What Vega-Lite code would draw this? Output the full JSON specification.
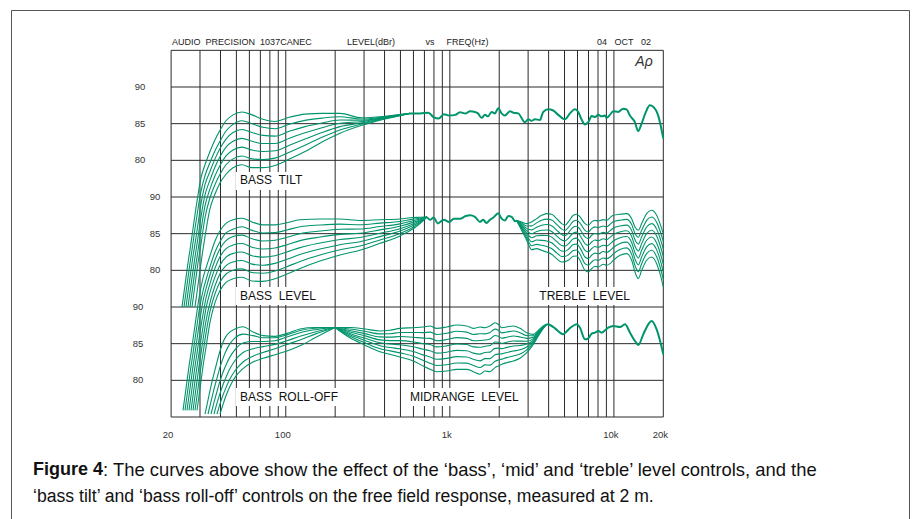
{
"$schema":"https://vega.github.io/schema/vega-lite/v6.json",
"width":898,"height":517,
"autosize":{"type":"none"},
"padding":{"left":11,"top":10,"right":7,"bottom":0},
"background":"white",
"config":{"view":{"stroke":"#555","strokeWidth":1},"text":{"font":"Liberation Sans"}},
"datasets":{
"vgrid":[{"hz":20},{"hz":30},{"hz":40},{"hz":50},{"hz":60},{"hz":70},{"hz":80},{"hz":90},{"hz":100},{"hz":200},{"hz":300},{"hz":400},{"hz":500},{"hz":600},{"hz":700},{"hz":800},{"hz":900},{"hz":1000},{"hz":2000},{"hz":3000},{"hz":4000},{"hz":5000},{"hz":6000},{"hz":7000},{"hz":8000},{"hz":9000},{"hz":10000},{"hz":20000}],
"hgrid":[{"l":95},{"l":90},{"l":85},{"l":80},{"l":75},{"l":70},{"l":65},{"l":60},{"l":55},{"l":50},{"l":45}],
"ticks":[{"v":90},{"v":85},{"v":80}],
"xlab":[{"hz":20,"t":"20"},{"hz":100,"t":"100"},{"hz":1000,"t":"1k"},{"hz":10000,"t":"10k"},{"hz":20000,"t":"20k"}],
"tilt":[
{"hz":23.31,"a":60},
{"hz":23.97,"a":62,"b":60},
{"hz":24.65,"a":64,"b":62,"c":60},
{"hz":25.35,"a":66,"b":64,"c":62,"d":60},
{"hz":26.08,"a":67.8,"b":66,"c":64,"d":62,"e":60},
{"hz":26.82,"a":69.7,"b":67.8,"c":66,"d":64,"e":62,"f":60},
{"hz":27.97,"a":72.6,"b":70.7,"c":68.6,"d":66.8,"e":65.0,"f":63.0,"g":60},
{"hz":29.18,"a":75.3,"b":73.4,"c":71.3,"d":69.5,"e":67.7,"f":66.0,"g":63.0},
{"hz":30.43,"a":77.6,"b":75.8,"c":74.1,"d":72.3,"e":70.5,"f":68.6,"g":66.0},
{"hz":32.19,"a":79.4,"b":77.9,"c":76.7,"d":75.3,"e":73.8,"f":72.2,"g":69.6},
{"hz":34.52,"a":81.2,"b":79.7,"c":78.5,"d":77.3,"e":76.1,"f":74.9,"g":73.4},
{"hz":37.04,"a":82.8,"b":81.3,"c":80.2,"d":79.1,"e":77.9,"f":76.7,"g":75.4},
{"hz":39.73,"a":84.1,"b":82.6,"c":81.6,"d":80.5,"e":79.3,"f":78.1,"g":76.9},
{"hz":43.22,"a":85.4,"b":84.0,"c":82.9,"d":81.8,"e":80.6,"f":79.4,"g":78.1},
{"hz":47.69,"a":86.2,"b":84.9,"c":83.8,"d":82.6,"e":81.4,"f":80.2,"g":79.0},
{"hz":54.1,"a":86.6,"b":85.4,"c":84.2,"d":83.0,"e":81.8,"f":80.6,"g":79.4},
{"hz":62.23,"a":86.2,"b":85.0,"c":83.8,"d":82.6,"e":81.4,"f":80.2,"g":79.0},
{"hz":72.63,"a":85.6,"b":84.5,"c":83.4,"d":82.3,"e":81.2,"f":80.1,"g":79.0},
{"hz":85.98,"a":85.3,"b":84.3,"c":83.3,"d":82.3,"e":81.3,"f":80.3,"g":79.3},
{"hz":106.1,"a":85.9,"b":84.95,"c":84.0,"d":83.05,"e":82.1,"f":81.15,"g":80.2},
{"hz":131,"a":86.3,"b":85.45,"c":84.6,"d":83.75,"e":82.9,"f":82.05,"g":81.2},
{"hz":166.3,"a":86.4,"b":85.75,"c":85.1,"d":84.45,"e":83.8,"f":83.15,"g":82.5},
{"hz":214,"a":86.4,"b":85.95,"c":85.5,"d":85.05,"e":84.6,"f":84.15,"g":83.7},
{"hz":291.5,"a":85.8,"b":85.63,"c":85.46,"d":85.29,"e":85.12,"f":84.95,"g":84.78},
{"hz":402.5,"a":86.0,"b":85.94,"c":85.88,"d":85.82,"e":85.76,"f":85.7,"g":85.64},
{"hz":571.7,"a":86.4,"b":86.4,"c":86.4,"d":86.4,"e":86.4,"f":86.4,"g":86.4}
],
"base1":[
{"hz":571.7,"v":86.4},{"hz":600,"v":86.4},{"hz":658,"v":86.4},{"hz":740,"v":86.5},{"hz":795,"v":85.9},{"hz":855,"v":85.7},{"hz":920,"v":86.3},{"hz":990,"v":86.1},{"hz":1080,"v":86.2},{"hz":1153,"v":86.55},{"hz":1250,"v":86.4},{"hz":1327,"v":86.7},{"hz":1422,"v":86.6},{"hz":1483,"v":86.4},{"hz":1562,"v":85.8},{"hz":1637,"v":86.2},{"hz":1707,"v":86.0},{"hz":1797,"v":86.6},{"hz":1883,"v":86.4},{"hz":1972,"v":87.1},{"hz":2068,"v":86.4},{"hz":2166,"v":86.1},{"hz":2324,"v":86.7},{"hz":2434,"v":86.5},{"hz":2611,"v":86.4},{"hz":2868,"v":85.2},{"hz":3004,"v":85.6},{"hz":3151,"v":85.4},{"hz":3300,"v":85.6},{"hz":3540,"v":85.5},{"hz":3708,"v":86.6},{"hz":3977,"v":86.95},{"hz":4266,"v":86.8},{"hz":4576,"v":86.2},{"hz":5028,"v":85.6},{"hz":5395,"v":86.4},{"hz":5786,"v":86.95},{"hz":6061,"v":86.6},{"hz":6359,"v":85.55},{"hz":6661,"v":84.9},{"hz":6977,"v":85.2},{"hz":7318,"v":86.05},{"hz":7664,"v":85.9},{"hz":8027,"v":86.2},{"hz":8418,"v":86.0},{"hz":8817,"v":86.1},{"hz":9030,"v":85.8},{"hz":9455,"v":86.2},{"hz":9904,"v":86.7},{"hz":10620,"v":86.6},{"hz":11391,"v":87.05},{"hz":11946,"v":86.95},{"hz":12512,"v":86.1},{"hz":13423,"v":85.2},{"hz":14059,"v":84.0},{"hz":14745,"v":85.0},{"hz":15665,"v":86.6},{"hz":16567,"v":87.5},{"hz":17352,"v":87.3},{"hz":18620,"v":86.1},{"hz":20000,"v":83.0}
],
"bass":[
{"hz":23.64,"a":60.9},
{"hz":24.31,"a":62.9,"b":60.9},
{"hz":25.0,"a":64.9,"b":62.9,"c":60.9},
{"hz":25.71,"a":66.9,"b":64.9,"c":62.9,"d":60.9},
{"hz":26.45,"a":68.7,"b":66.9,"c":64.9,"d":62.9,"e":60.9},
{"hz":27.2,"a":70.6,"b":68.7,"c":66.9,"d":64.9,"e":62.9,"f":60.9},
{"hz":27.97,"a":72.5,"b":70.6,"c":68.7,"d":66.9,"e":64.9,"f":62.9,"g":60.9},
{"hz":28.77,"a":74.4,"b":72.5,"c":70.6,"d":68.7,"e":66.9,"f":64.9,"g":62.9,"h":60.9},
{"hz":29.59,"a":76.2,"b":74.4,"c":72.5,"d":70.6,"e":68.7,"f":66.9,"g":64.9,"h":62.9},
{"hz":30.43,"a":77.7,"b":75.9,"c":74.2,"d":72.4,"e":70.5,"f":68.7,"g":66.9,"h":64.9},
{"hz":31.3,"a":78.95,"b":77.2,"c":75.8,"d":74.0,"e":72.3,"f":70.5,"g":68.7,"h":66.9},
{"hz":32.64,"a":80.3,"b":78.7,"c":77.5,"d":76.2,"e":74.8,"f":73.1,"g":71.4,"h":69.5},
{"hz":34.52,"a":82.0,"b":80.5,"c":79.4,"d":78.2,"e":77.0,"f":75.6,"g":74.4,"h":72.9},
{"hz":37.04,"a":84.0,"b":82.5,"c":81.4,"d":80.3,"e":79.1,"f":77.9,"g":76.8,"h":75.6},
{"hz":39.73,"a":85.4,"b":83.9,"c":82.95,"d":81.85,"e":80.7,"f":79.55,"g":78.4,"h":77.25},
{"hz":43.22,"a":86.4,"b":85.1,"c":84.05,"d":82.95,"e":81.8,"f":80.65,"g":79.5,"h":78.35},
{"hz":47.69,"a":86.9,"b":85.6,"c":84.6,"d":83.45,"e":82.3,"f":81.15,"g":80.0,"h":78.85},
{"hz":54.1,"a":87.1,"b":85.95,"c":84.8,"d":83.65,"e":82.5,"f":81.35,"g":80.2,"h":79.05},
{"hz":62.23,"a":86.6,"b":85.45,"c":84.3,"d":83.15,"e":82.0,"f":80.85,"g":79.7,"h":78.55},
{"hz":72.63,"a":86.2,"b":85.1,"c":84.0,"d":82.9,"e":81.8,"f":80.7,"g":79.6,"h":78.5},
{"hz":85.98,"a":86.2,"b":85.15,"c":84.1,"d":83.05,"e":82.0,"f":80.95,"g":79.9,"h":78.85},
{"hz":101.7,"a":86.5,"b":85.5,"c":84.5,"d":83.5,"e":82.5,"f":81.5,"g":80.5,"h":79.5},
{"hz":122.1,"a":86.9,"b":85.95,"c":85.0,"d":84.05,"e":83.1,"f":82.15,"g":81.2,"h":80.25},
{"hz":161.65,"a":87.0,"b":86.18,"c":85.36,"d":84.54,"e":83.72,"f":82.9,"g":82.08,"h":81.26},
{"hz":214,"a":87.0,"b":86.3,"c":85.6,"d":84.9,"e":84.2,"f":83.5,"g":82.8,"h":82.1},
{"hz":283.4,"a":86.8,"b":86.22,"c":85.64,"d":85.06,"e":84.48,"f":83.9,"g":83.32,"h":82.74},
{"hz":375.2,"a":86.9,"b":86.44,"c":85.98,"d":85.52,"e":85.06,"f":84.6,"g":84.14,"h":83.68},
{"hz":496.9,"a":87.0,"b":86.67,"c":86.34,"d":86.01,"e":85.68,"f":85.35,"g":85.02,"h":84.69},
{"hz":596.3,"a":87.2,"b":86.98,"c":86.76,"d":86.54,"e":86.32,"f":86.1,"g":85.88,"h":85.66},
{"hz":657.7,"a":87.23,"b":87.11,"c":86.99,"d":86.87,"e":86.75,"f":86.63,"g":86.51,"h":86.39},
{"hz":725.6,"a":87.27,"b":87.27,"c":87.27,"d":87.27,"e":87.27,"f":87.27,"g":87.27,"h":87.27}
],
"base2":[
{"hz":725.6,"v":87.27},{"hz":757,"v":86.9},{"hz":798,"v":87.2},{"hz":843,"v":86.4},{"hz":920,"v":86.9},{"hz":990,"v":86.6},{"hz":1060,"v":87.05},{"hz":1153,"v":87.05},{"hz":1250,"v":87.4},{"hz":1327,"v":87.5},{"hz":1422,"v":87.3},{"hz":1527,"v":86.6},{"hz":1600,"v":86.9},{"hz":1670,"v":86.45},{"hz":1757,"v":86.9},{"hz":1842,"v":87.2},{"hz":1972,"v":87.8},{"hz":2068,"v":87.05},{"hz":2166,"v":86.8},{"hz":2270,"v":87.4},{"hz":2380,"v":87.3},{"hz":2500,"v":86.7},{"hz":2554,"v":86.8}
],
"treble":[
{"hz":2554,"a":86.8,"b":86.8,"c":86.8,"d":86.8,"e":86.8,"f":86.8,"g":86.8,"h":86.8},
{"hz":2740,"a":86.6,"b":86.44,"c":86.27,"d":86.11,"e":85.95,"f":85.79,"g":85.62,"h":85.46},
{"hz":2940,"a":86.37,"b":86.05,"c":85.72,"d":85.4,"e":85.07,"f":84.75,"g":84.43,"h":84.1},
{"hz":3152,"a":86.6,"b":86.06,"c":85.52,"d":84.98,"e":84.44,"f":83.9,"g":83.36,"h":82.82},
{"hz":3382,"a":87.05,"b":86.47,"c":85.88,"d":85.3,"e":84.71,"f":84.13,"g":83.54,"h":82.96},
{"hz":3628,"a":87.5,"b":86.82,"c":86.14,"d":85.46,"e":84.77,"f":84.09,"g":83.41,"h":82.73},
{"hz":3892,"a":87.73,"b":86.98,"c":86.24,"d":85.49,"e":84.74,"f":83.99,"g":83.25,"h":82.5},
{"hz":4174,"a":87.64,"b":86.86,"c":86.08,"d":85.3,"e":84.53,"f":83.75,"g":82.97,"h":82.19},
{"hz":4477,"a":87.05,"b":86.27,"c":85.49,"d":84.71,"e":83.94,"f":83.16,"g":82.38,"h":81.6},
{"hz":4804,"a":86.37,"b":85.62,"c":84.88,"d":84.13,"e":83.38,"f":82.63,"g":81.89,"h":81.14},
{"hz":5034,"a":86.14,"b":85.43,"c":84.73,"d":84.02,"e":83.31,"f":82.6,"g":81.9,"h":81.19},
{"hz":5276,"a":86.6,"b":85.85,"c":85.11,"d":84.36,"e":83.61,"f":82.86,"g":82.12,"h":81.37},
{"hz":5658,"a":87.5,"b":86.7,"c":85.9,"d":85.1,"e":84.31,"f":83.51,"g":82.71,"h":81.91},
{"hz":5929,"a":87.64,"b":86.83,"c":86.02,"d":85.21,"e":84.39,"f":83.58,"g":82.77,"h":81.96},
{"hz":6213,"a":87.28,"b":86.44,"c":85.59,"d":84.75,"e":83.9,"f":83.06,"g":82.21,"h":81.37},
{"hz":6664,"a":86.37,"b":85.46,"c":84.55,"d":83.64,"e":82.73,"f":81.82,"g":80.91,"h":80.0},
{"hz":6982,"a":86.14,"b":85.23,"c":84.32,"d":83.41,"e":82.51,"f":81.6,"g":80.69,"h":79.78},
{"hz":7318,"a":86.6,"b":85.69,"c":84.78,"d":83.87,"e":82.96,"f":82.05,"g":81.14,"h":80.23},
{"hz":7668,"a":86.82,"b":85.92,"c":85.03,"d":84.13,"e":83.24,"f":82.34,"g":81.45,"h":80.55},
{"hz":8036,"a":86.73,"b":85.83,"c":84.94,"d":84.04,"e":83.15,"f":82.25,"g":81.36,"h":80.46},
{"hz":8618,"a":86.91,"b":86.04,"c":85.17,"d":84.3,"e":83.43,"f":82.56,"g":81.69,"h":80.82},
{"hz":9032,"a":86.82,"b":85.94,"c":85.07,"d":84.19,"e":83.32,"f":82.44,"g":81.57,"h":80.69},
{"hz":9470,"a":87.19,"b":86.29,"c":85.4,"d":84.5,"e":83.6,"f":82.71,"g":81.81,"h":80.91},
{"hz":9920,"a":87.5,"b":86.62,"c":85.75,"d":84.87,"e":84.0,"f":83.12,"g":82.25,"h":81.37},
{"hz":10892,"a":87.64,"b":86.84,"c":86.04,"d":85.24,"e":84.45,"f":83.65,"g":82.85,"h":82.05},
{"hz":11960,"a":87.73,"b":86.95,"c":86.17,"d":85.39,"e":84.62,"f":83.84,"g":83.06,"h":82.28},
{"hz":12830,"a":87.05,"b":86.24,"c":85.43,"d":84.61,"e":83.8,"f":82.99,"g":82.18,"h":81.37},
{"hz":13444,"a":85.91,"b":85.03,"c":84.16,"d":83.28,"e":82.41,"f":81.53,"g":80.66,"h":79.78},
{"hz":14088,"a":85.46,"b":84.52,"c":83.58,"d":82.64,"e":81.69,"f":80.75,"g":79.81,"h":78.87},
{"hz":14760,"a":86.37,"b":85.46,"c":84.55,"d":83.64,"e":82.73,"f":81.82,"g":80.91,"h":80.0},
{"hz":15832,"a":87.73,"b":86.82,"c":85.91,"d":85.0,"e":84.1,"f":83.19,"g":82.28,"h":81.37},
{"hz":16986,"a":88.19,"b":87.28,"c":86.37,"d":85.46,"e":84.55,"f":83.64,"g":82.73,"h":81.82},
{"hz":18220,"a":87.5,"b":86.56,"c":85.62,"d":84.68,"e":83.73,"f":82.79,"g":81.85,"h":80.91},
{"hz":19099,"a":86.37,"b":85.4,"c":84.42,"d":83.45,"e":82.47,"f":81.5,"g":80.52,"h":79.55},
{"hz":20000,"a":85.0,"b":83.96,"c":82.92,"d":81.88,"e":80.85,"f":79.81,"g":78.77,"h":77.73}
],
"rolloff":[
{"hz":32.19,"a":75.4},
{"hz":33.57,"a":77.3,"b":75.4},
{"hz":35.01,"a":79.2,"b":77.1,"c":75.4},
{"hz":36.52,"a":80.9,"b":78.8,"c":77.0,"d":75.4},
{"hz":38.09,"a":82.5,"b":80.3,"c":78.5,"d":76.9,"e":75.4},
{"hz":39.73,"a":84.0,"b":81.8,"c":79.9,"d":78.2,"e":76.8,"f":75.4},
{"hz":41.44,"a":85.2,"b":83.0,"c":81.1,"d":79.4,"e":78.0,"f":76.7},
{"hz":43.22,"a":86.0,"b":84.0,"c":82.1,"d":80.4,"e":79.0,"f":77.9},
{"hz":45.72,"a":86.6,"b":85.0,"c":83.2,"d":81.6,"e":80.2,"f":79.2},
{"hz":49.05,"a":87.0,"b":85.8,"c":84.2,"d":82.7,"e":81.3,"f":80.4},
{"hz":54.86,"a":87.3,"b":86.3,"c":85.1,"d":83.8,"e":82.5,"f":81.6},
{"hz":63.11,"a":86.6,"b":86.1,"c":85.3,"d":84.3,"e":83.3,"f":82.5},
{"hz":72.63,"a":86.1,"b":85.8,"c":85.3,"d":84.6,"e":83.8,"f":83.0},
{"hz":85.98,"a":86.0,"b":85.8,"c":85.4,"d":84.9,"e":84.3,"f":83.5},
{"hz":101.7,"a":86.4,"b":86.2,"c":85.9,"d":85.4,"e":84.9,"f":84.0},
{"hz":122.1,"a":87.0,"b":86.8,"c":86.5,"d":86.0,"e":85.5,"f":84.7},
{"hz":150.75,"a":87.2,"b":87.1,"c":86.9,"d":86.6,"e":86.3,"f":85.8},
{"hz":199.5,"a":87.2,"b":87.2,"c":87.2,"d":87.2,"e":87.2,"f":87.2}
],
"mid":[
{"hz":199.5,"a":87.2,"b":87.2,"c":87.2,"d":87.2,"e":87.2,"f":87.2,"g":87.2,"h":87.2},
{"hz":246,"a":87.2,"b":87.0,"c":86.8,"d":86.6,"e":86.4,"f":86.2,"g":86.0,"h":85.8},
{"hz":304,"a":87.0,"b":86.69,"c":86.37,"d":86.06,"e":85.74,"f":85.43,"g":85.11,"h":84.8},
{"hz":375.2,"a":86.73,"b":86.33,"c":85.92,"d":85.52,"e":85.12,"f":84.72,"g":84.31,"h":83.91},
{"hz":431.8,"a":86.82,"b":86.35,"c":85.89,"d":85.42,"e":84.95,"f":84.48,"g":84.02,"h":83.55},
{"hz":496.8,"a":87.09,"b":86.53,"c":85.97,"d":85.41,"e":84.86,"f":84.3,"g":83.74,"h":83.18},
{"hz":599,"a":87.18,"b":86.53,"c":85.88,"d":85.23,"e":84.59,"f":83.94,"g":83.29,"h":82.64},
{"hz":689,"a":87.27,"b":86.51,"c":85.75,"d":84.99,"e":84.23,"f":83.47,"g":82.71,"h":81.95},
{"hz":757,"a":87.41,"b":86.57,"c":85.72,"d":84.88,"e":84.03,"f":83.19,"g":82.34,"h":81.5},
{"hz":831,"a":87.09,"b":86.25,"c":85.4,"d":84.56,"e":83.71,"f":82.87,"g":82.02,"h":81.18},
{"hz":957,"a":87.27,"b":86.41,"c":85.56,"d":84.7,"e":83.84,"f":82.99,"g":82.13,"h":81.27},
{"hz":1101,"a":87.55,"b":86.69,"c":85.82,"d":84.96,"e":84.09,"f":83.23,"g":82.36,"h":81.5},
{"hz":1267,"a":87.41,"b":86.57,"c":85.72,"d":84.88,"e":84.03,"f":83.19,"g":82.34,"h":81.5},
{"hz":1391,"a":87.09,"b":86.25,"c":85.4,"d":84.56,"e":83.71,"f":82.87,"g":82.02,"h":81.18},
{"hz":1527,"a":87.27,"b":86.35,"c":85.43,"d":84.51,"e":83.58,"f":82.66,"g":81.74,"h":80.82},
{"hz":1638,"a":87.18,"b":86.34,"c":85.49,"d":84.65,"e":83.8,"f":82.96,"g":82.11,"h":81.27},
{"hz":1757,"a":87.41,"b":86.52,"c":85.63,"d":84.74,"e":83.85,"f":82.96,"g":82.07,"h":81.18},
{"hz":1885,"a":87.86,"b":86.98,"c":86.11,"d":85.23,"e":84.36,"f":83.48,"g":82.61,"h":81.73},
{"hz":1975,"a":87.64,"b":86.83,"c":86.01,"d":85.2,"e":84.39,"f":83.58,"g":82.76,"h":81.95},
{"hz":2070,"a":87.18,"b":86.47,"c":85.75,"d":85.04,"e":84.32,"f":83.61,"g":82.89,"h":82.18},
{"hz":2220,"a":87.27,"b":86.58,"c":85.88,"d":85.19,"e":84.49,"f":83.8,"g":83.1,"h":82.41},
{"hz":2437,"a":87.41,"b":86.73,"c":86.05,"d":85.36,"e":84.68,"f":84.0,"g":83.32,"h":82.64},
{"hz":2676,"a":87.09,"b":86.5,"c":85.92,"d":85.34,"e":84.75,"f":84.17,"g":83.58,"h":83.0},
{"hz":2940,"a":86.5,"b":86.11,"c":85.72,"d":85.33,"e":84.94,"f":84.55,"g":84.16,"h":83.77},
{"hz":3228,"a":86.27,"b":86.08,"c":85.88,"d":85.69,"e":85.49,"f":85.3,"g":85.1,"h":84.91},
{"hz":3462,"a":86.82,"b":86.71,"c":86.6,"d":86.49,"e":86.38,"f":86.27,"g":86.16,"h":86.05},
{"hz":3714,"a":87.41,"b":87.36,"c":87.32,"d":87.27,"e":87.23,"f":87.18,"g":87.14,"h":87.09},
{"hz":3892,"a":87.64,"b":87.64,"c":87.64,"d":87.64,"e":87.64,"f":87.64,"g":87.64,"h":87.64}
],
"base3":[
{"hz":3892,"v":87.64},{"hz":4078,"v":87.55},{"hz":4376,"v":87.09},{"hz":4692,"v":86.5},{"hz":4905,"v":86.27},{"hz":5130,"v":86.64},{"hz":5500,"v":87.27},{"hz":5929,"v":87.64},{"hz":6213,"v":87.18},{"hz":6664,"v":85.59},{"hz":6982,"v":85.73},{"hz":7318,"v":86.36},{"hz":7668,"v":86.5},{"hz":8036,"v":86.73},{"hz":8420,"v":86.5},{"hz":8820,"v":86.82},{"hz":9240,"v":87.18},{"hz":9920,"v":87.41},{"hz":10892,"v":87.27},{"hz":11680,"v":87.64},{"hz":12535,"v":86.5},{"hz":13444,"v":85.36},{"hz":14088,"v":84.82},{"hz":15100,"v":86.27},{"hz":16200,"v":87.64},{"hz":16986,"v":88.09},{"hz":18220,"v":86.95},{"hz":20000,"v":83.55}
]
},
"layer":[
{"layer":[
{"data":{"name":"vgrid"},"mark":{"type":"rule","color":"#2a2a2a","strokeWidth":1},
 "encoding":{"x":{"field":"hz","type":"quantitative","scale":{"type":"log","domain":[2.1146,628940],"nice":false},"axis":null},
  "y":{"datum":95,"type":"quantitative","scale":{"domain":[30,100.5],"nice":false,"zero":false},"axis":null},"y2":{"datum":45}}},
{"data":{"name":"hgrid"},"mark":{"type":"rule","color":"#2a2a2a","strokeWidth":1},
 "encoding":{"x":{"datum":20,"type":"quantitative","scale":{"type":"log","domain":[2.1146,628940],"nice":false},"axis":null},"x2":{"datum":20000},
  "y":{"field":"l","type":"quantitative","scale":{"domain":[30,100.5],"nice":false,"zero":false},"axis":null}}},
{"data":{"values":[{}]},"mark":{"type":"rect","color":"white"},
 "encoding":{"x":{"datum":49.73,"type":"quantitative","scale":{"type":"log","domain":[2.1146,628940],"nice":false},"axis":null},"x2":{"datum":132.8},
  "y":{"datum":78.41,"type":"quantitative","scale":{"domain":[30,100.5],"nice":false,"zero":false},"axis":null},"y2":{"datum":75.95}}},
{"data":{"values":[{}]},"mark":{"type":"rect","color":"white"},
 "encoding":{"x":{"datum":49.73,"type":"quantitative","scale":{"type":"log","domain":[2.1146,628940],"nice":false},"axis":null},"x2":{"datum":161.65},
  "y":{"datum":62.73,"type":"quantitative","scale":{"domain":[30,100.5],"nice":false,"zero":false},"axis":null},"y2":{"datum":60.27}}},
{"data":{"values":[{}]},"mark":{"type":"rect","color":"white"},
 "encoding":{"x":{"datum":3258,"type":"quantitative","scale":{"type":"log","domain":[2.1146,628940],"nice":false},"axis":null},"x2":{"datum":13443},
  "y":{"datum":62.73,"type":"quantitative","scale":{"domain":[30,100.5],"nice":false,"zero":false},"axis":null},"y2":{"datum":60.27}}},
{"data":{"values":[{}]},"mark":{"type":"rect","color":"white"},
 "encoding":{"x":{"datum":49.73,"type":"quantitative","scale":{"type":"log","domain":[2.1146,628940],"nice":false},"axis":null},"x2":{"datum":226.4},
  "y":{"datum":48.95,"type":"quantitative","scale":{"domain":[30,100.5],"nice":false,"zero":false},"axis":null},"y2":{"datum":46.5}}},
{"data":{"values":[{}]},"mark":{"type":"rect","color":"white"},
 "encoding":{"x":{"datum":540.4,"type":"quantitative","scale":{"type":"log","domain":[2.1146,628940],"nice":false},"axis":null},"x2":{"datum":2832},
  "y":{"datum":48.95,"type":"quantitative","scale":{"domain":[30,100.5],"nice":false,"zero":false},"axis":null},"y2":{"datum":46.5}}},
{"data":{"name":"tilt"},"transform":[{"fold":["a","b","c","d","e","f","g"],"as":["k","v"]},{"filter":"isValid(datum.v)"}],
 "mark":{"type":"line","color":"#00946c","strokeWidth":1.1,"interpolate":"monotone"},
 "encoding":{"x":{"field":"hz","type":"quantitative","scale":{"type":"log","domain":[2.1146,628940],"nice":false},"axis":null},
  "y":{"field":"v","type":"quantitative","scale":{"domain":[30,100.5],"nice":false,"zero":false},"axis":null},"detail":{"field":"k"}}},
{"data":{"name":"base1"},"mark":{"type":"line","color":"#00946c","strokeWidth":2,"interpolate":"monotone"},
 "encoding":{"x":{"field":"hz","type":"quantitative","scale":{"type":"log","domain":[2.1146,628940],"nice":false},"axis":null},
  "y":{"field":"v","type":"quantitative","scale":{"domain":[30,100.5],"nice":false,"zero":false},"axis":null}}},
{"data":{"name":"ticks"},"mark":{"type":"text","dx":-31,"fontSize":9.5,"align":"center","baseline":"middle","color":"#333"},
 "encoding":{"x":{"datum":20,"type":"quantitative","scale":{"type":"log","domain":[2.1146,628940],"nice":false},"axis":null},
  "y":{"field":"v","type":"quantitative","scale":{"domain":[30,100.5],"nice":false,"zero":false},"axis":null},"text":{"field":"v","type":"quantitative"}}},
{"data":{"name":"xlab"},"mark":{"type":"text","dx":-3,"dy":18,"fontSize":9.5,"align":"center","baseline":"middle","color":"#333"},
 "encoding":{"x":{"field":"hz","type":"quantitative","scale":{"type":"log","domain":[2.1146,628940],"nice":false},"axis":null},
  "y":{"datum":45,"type":"quantitative","scale":{"domain":[30,100.5],"nice":false,"zero":false},"axis":null},"text":{"field":"t"}}},
{"data":{"values":[{}]},"mark":{"type":"text","text":"AUDIO\u00a0 PRECISION\u00a0 1037CANEC","dx":1,"dy":-8,"fontSize":9,"align":"left","baseline":"middle","color":"#222"},
 "encoding":{"x":{"datum":20,"type":"quantitative","scale":{"type":"log","domain":[2.1146,628940],"nice":false},"axis":null},
  "y":{"datum":95,"type":"quantitative","scale":{"domain":[30,100.5],"nice":false,"zero":false},"axis":null}}},
{"data":{"values":[{}]},"mark":{"type":"text","text":"LEVEL(dBr)","dy":-8,"fontSize":9,"align":"left","baseline":"middle","color":"#222"},
 "encoding":{"x":{"datum":236,"type":"quantitative","scale":{"type":"log","domain":[2.1146,628940],"nice":false},"axis":null},
  "y":{"datum":95,"type":"quantitative","scale":{"domain":[30,100.5],"nice":false,"zero":false},"axis":null}}},
{"data":{"values":[{}]},"mark":{"type":"text","text":"vs","dy":-8,"fontSize":9,"align":"left","baseline":"middle","color":"#222"},
 "encoding":{"x":{"datum":710,"type":"quantitative","scale":{"type":"log","domain":[2.1146,628940],"nice":false},"axis":null},
  "y":{"datum":95,"type":"quantitative","scale":{"domain":[30,100.5],"nice":false,"zero":false},"axis":null}}},
{"data":{"values":[{}]},"mark":{"type":"text","text":"FREQ(Hz)","dy":-8,"fontSize":9,"align":"left","baseline":"middle","color":"#222"},
 "encoding":{"x":{"datum":955,"type":"quantitative","scale":{"type":"log","domain":[2.1146,628940],"nice":false},"axis":null},
  "y":{"datum":95,"type":"quantitative","scale":{"domain":[30,100.5],"nice":false,"zero":false},"axis":null}}},
{"data":{"values":[{}]},"mark":{"type":"text","text":"04\u00a0\u00a0 OCT\u00a0\u00a0 02","dy":-8,"fontSize":9,"align":"left","baseline":"middle","color":"#222"},
 "encoding":{"x":{"datum":7886,"type":"quantitative","scale":{"type":"log","domain":[2.1146,628940],"nice":false},"axis":null},
  "y":{"datum":95,"type":"quantitative","scale":{"domain":[30,100.5],"nice":false,"zero":false},"axis":null}}},
{"data":{"values":[{}]},"mark":{"type":"text","text":"Aρ","dy":12,"fontSize":14,"fontStyle":"italic","align":"center","baseline":"middle","color":"#333"},
 "encoding":{"x":{"datum":15253,"type":"quantitative","scale":{"type":"log","domain":[2.1146,628940],"nice":false},"axis":null},
  "y":{"datum":95,"type":"quantitative","scale":{"domain":[30,100.5],"nice":false,"zero":false},"axis":null}}},
{"data":{"values":[{}]},"mark":{"type":"text","text":"BASS\u00a0 TILT","fontSize":12,"align":"left","baseline":"middle","color":"#111"},
 "encoding":{"x":{"datum":52.6,"type":"quantitative","scale":{"type":"log","domain":[2.1146,628940],"nice":false},"axis":null},
  "y":{"datum":77.3,"type":"quantitative","scale":{"domain":[30,100.5],"nice":false,"zero":false},"axis":null}}},
{"data":{"values":[{}]},"mark":{"type":"text","text":"BASS\u00a0 LEVEL","fontSize":12,"align":"left","baseline":"middle","color":"#111"},
 "encoding":{"x":{"datum":52.6,"type":"quantitative","scale":{"type":"log","domain":[2.1146,628940],"nice":false},"axis":null},
  "y":{"datum":61.5,"type":"quantitative","scale":{"domain":[30,100.5],"nice":false,"zero":false},"axis":null}}},
{"data":{"values":[{}]},"mark":{"type":"text","text":"TREBLE\u00a0 LEVEL","fontSize":12,"align":"left","baseline":"middle","color":"#111"},
 "encoding":{"x":{"datum":3510,"type":"quantitative","scale":{"type":"log","domain":[2.1146,628940],"nice":false},"axis":null},
  "y":{"datum":61.5,"type":"quantitative","scale":{"domain":[30,100.5],"nice":false,"zero":false},"axis":null}}},
{"data":{"values":[{}]},"mark":{"type":"text","text":"BASS\u00a0 ROLL-OFF","fontSize":12,"align":"left","baseline":"middle","color":"#111"},
 "encoding":{"x":{"datum":52.6,"type":"quantitative","scale":{"type":"log","domain":[2.1146,628940],"nice":false},"axis":null},
  "y":{"datum":47.7,"type":"quantitative","scale":{"domain":[30,100.5],"nice":false,"zero":false},"axis":null}}},
{"data":{"values":[{}]},"mark":{"type":"text","text":"MIDRANGE\u00a0 LEVEL","fontSize":12,"align":"left","baseline":"middle","color":"#111"},
 "encoding":{"x":{"datum":571.7,"type":"quantitative","scale":{"type":"log","domain":[2.1146,628940],"nice":false},"axis":null},
  "y":{"datum":47.7,"type":"quantitative","scale":{"domain":[30,100.5],"nice":false,"zero":false},"axis":null}}},
{"data":{"values":[{}]},"mark":{"type":"text","text":"Figure 4","dx":-138,"dy":53,"fontSize":18,"fontWeight":"bold","align":"left","baseline":"middle","color":"#111"},
 "encoding":{"x":{"datum":20,"type":"quantitative","scale":{"type":"log","domain":[2.1146,628940],"nice":false},"axis":null},
  "y":{"datum":45,"type":"quantitative","scale":{"domain":[30,100.5],"nice":false,"zero":false},"axis":null}}},
{"data":{"values":[{}]},"mark":{"type":"text","text":": The curves above show the effect of the ‘bass’, ‘mid’ and ‘treble’ level controls, and the","dx":-68,"dy":53,"fontSize":18.4,"align":"left","baseline":"middle","color":"#111"},
 "encoding":{"x":{"datum":20,"type":"quantitative","scale":{"type":"log","domain":[2.1146,628940],"nice":false},"axis":null},
  "y":{"datum":45,"type":"quantitative","scale":{"domain":[30,100.5],"nice":false,"zero":false},"axis":null}}},
{"data":{"values":[{}]},"mark":{"type":"text","text":"‘bass tilt’ and ‘bass roll-off’ controls on the free field response, measured at 2 m.","dx":-138,"dy":80,"fontSize":17.6,"align":"left","baseline":"middle","color":"#111"},
 "encoding":{"x":{"datum":20,"type":"quantitative","scale":{"type":"log","domain":[2.1146,628940],"nice":false},"axis":null},
  "y":{"datum":45,"type":"quantitative","scale":{"domain":[30,100.5],"nice":false,"zero":false},"axis":null}}}
]},
{"layer":[
{"data":{"name":"bass"},"transform":[{"fold":["a","b","c","d","e","f","g","h"],"as":["k","v"]},{"filter":"isValid(datum.v)"}],
 "mark":{"type":"line","color":"#00946c","strokeWidth":1.1,"interpolate":"monotone"},
 "encoding":{"x":{"field":"hz","type":"quantitative","scale":{"type":"log","domain":[2.1146,628940],"nice":false},"axis":null},
  "y":{"field":"v","type":"quantitative","scale":{"domain":[45,115.5],"nice":false,"zero":false},"axis":null},"detail":{"field":"k"}}},
{"data":{"name":"base2"},"mark":{"type":"line","color":"#00946c","strokeWidth":2,"interpolate":"monotone"},
 "encoding":{"x":{"field":"hz","type":"quantitative","scale":{"type":"log","domain":[2.1146,628940],"nice":false},"axis":null},
  "y":{"field":"v","type":"quantitative","scale":{"domain":[45,115.5],"nice":false,"zero":false},"axis":null}}},
{"data":{"name":"treble"},"transform":[{"fold":["a","b","c","d","e","f","g","h"],"as":["k","v"]},{"filter":"isValid(datum.v)"}],
 "mark":{"type":"line","color":"#00946c","strokeWidth":1.1,"interpolate":"monotone"},
 "encoding":{"x":{"field":"hz","type":"quantitative","scale":{"type":"log","domain":[2.1146,628940],"nice":false},"axis":null},
  "y":{"field":"v","type":"quantitative","scale":{"domain":[45,115.5],"nice":false,"zero":false},"axis":null},"detail":{"field":"k"}}},
{"data":{"name":"ticks"},"mark":{"type":"text","dx":-16,"fontSize":9.5,"align":"center","baseline":"middle","color":"#333"},
 "encoding":{"x":{"datum":20,"type":"quantitative","scale":{"type":"log","domain":[2.1146,628940],"nice":false},"axis":null},
  "y":{"field":"v","type":"quantitative","scale":{"domain":[45,115.5],"nice":false,"zero":false},"axis":null},"text":{"field":"v","type":"quantitative"}}}
]},
{"layer":[
{"data":{"name":"rolloff"},"transform":[{"fold":["a","b","c","d","e","f"],"as":["k","v"]},{"filter":"isValid(datum.v)"}],
 "mark":{"type":"line","color":"#00946c","strokeWidth":1.1,"interpolate":"monotone"},
 "encoding":{"x":{"field":"hz","type":"quantitative","scale":{"type":"log","domain":[2.1146,628940],"nice":false},"axis":null},
  "y":{"field":"v","type":"quantitative","scale":{"domain":[60,130.5],"nice":false,"zero":false},"axis":null},"detail":{"field":"k"}}},
{"data":{"name":"mid"},"transform":[{"fold":["a","b","c","d","e","f","g","h"],"as":["k","v"]},{"filter":"isValid(datum.v)"}],
 "mark":{"type":"line","color":"#00946c","strokeWidth":1.1,"interpolate":"monotone"},
 "encoding":{"x":{"field":"hz","type":"quantitative","scale":{"type":"log","domain":[2.1146,628940],"nice":false},"axis":null},
  "y":{"field":"v","type":"quantitative","scale":{"domain":[60,130.5],"nice":false,"zero":false},"axis":null},"detail":{"field":"k"}}},
{"data":{"name":"base3"},"mark":{"type":"line","color":"#00946c","strokeWidth":2,"interpolate":"monotone"},
 "encoding":{"x":{"field":"hz","type":"quantitative","scale":{"type":"log","domain":[2.1146,628940],"nice":false},"axis":null},
  "y":{"field":"v","type":"quantitative","scale":{"domain":[60,130.5],"nice":false,"zero":false},"axis":null}}},
{"data":{"name":"ticks"},"mark":{"type":"text","dx":-33,"fontSize":9.5,"align":"center","baseline":"middle","color":"#333"},
 "encoding":{"x":{"datum":20,"type":"quantitative","scale":{"type":"log","domain":[2.1146,628940],"nice":false},"axis":null},
  "y":{"field":"v","type":"quantitative","scale":{"domain":[60,130.5],"nice":false,"zero":false},"axis":null},"text":{"field":"v","type":"quantitative"}}}
]}
],
"resolve":{"scale":{"y":"independent"}}
}
